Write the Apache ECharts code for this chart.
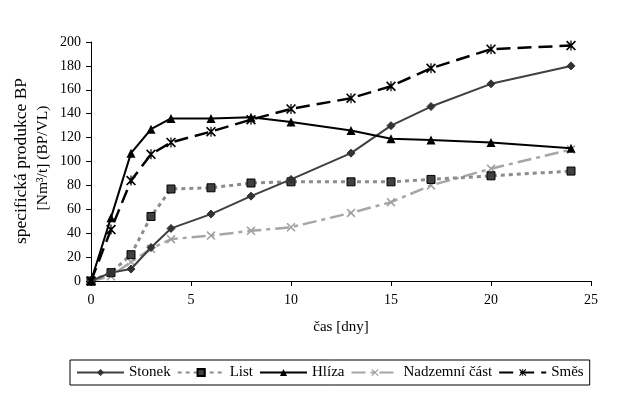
<!DOCTYPE html>
<html>
<head>
<meta charset="utf-8">
<script src="https://cdn.jsdelivr.net/npm/echarts@6/dist/echarts.min.js"></script>
<style>html,body{margin:0;padding:0;background:#fff;}#c{width:635px;height:405px;}</style>
</head>
<body>
<div id="c"></div>
<script>
const days = [0, 1, 2, 3, 4, 6, 8, 10, 13, 15, 17, 20, 24];
const stonek = [0, 7, 10, 28, 44, 56, 71, 85, 107, 130, 146, 165, 180];
const list = [0, 7, 22, 54, 77, 78, 82, 83, 83, 83, 85, 88, 92];
const hliza = [0, 53, 107, 127, 136, 136, 137, 133, 126, 119, 118, 116, 111];
const nadzemni = [0, 4, 16, 27, 35, 38, 42, 45, 57, 66, 80, 94, 110];
const smes = [0, 43, 84, 106, 116, 125, 135, 144, 153, 163, 178, 194, 197];
const seriesNames = ['Stonek', 'List', 'Hlíza', 'Nadzemní část', 'Směs'];
const xTicks = [0, 5, 10, 15, 20, 25];
const yTicks = [0, 20, 40, 60, 80, 100, 120, 140, 160, 180, 200];
const yTitle1 = 'specifická produkce BP';
const yTitle2 = '[Nm³/t] (BP/VL)';
const xTitle = 'čas [dny]';

const FONT = '"Liberation Serif", "Times New Roman", serif';
const xPath = 'path://M0,1.2 L1.2,0 L10,8.8 L8.8,10 Z M8.8,0 L10,1.2 L1.2,10 L0,8.8 Z';
const starPath = 'path://M0,1.2 L1.2,0 L10,8.8 L8.8,10 Z M8.8,0 L10,1.2 L1.2,10 L0,8.8 Z M4.4,0 L5.6,0 L5.6,10 L4.4,10 Z';

function pairs(vals) { return days.map((d, i) => [d, vals[i]]); }

const chart = echarts.init(document.getElementById('c'), null, {renderer: 'canvas'});
chart.setOption({
  animation: false,
  backgroundColor: '#fff',
  grid: {left: 91, right: 44, top: 42, bottom: 124, containLabel: false},
  graphic: [
    {type: 'text', x: 21, y: 161, rotation: Math.PI / 2,
      style: {text: yTitle1, fill: '#000', fontSize: 17.5, fontFamily: FONT, align: 'center', verticalAlign: 'middle'}},
    {type: 'text', x: 43, y: 158, rotation: Math.PI / 2,
      style: {text: yTitle2, fill: '#000', fontSize: 15.5, fontFamily: FONT, align: 'center', verticalAlign: 'middle'}}
  ],
  xAxis: {
    type: 'value', min: 0, max: 25, interval: 5,
    axisLine: {lineStyle: {color: '#000', width: 1}},
    axisTick: {show: true, inside: false, length: 5, lineStyle: {color: '#000'}},
    axisLabel: {color: '#000', fontFamily: FONT, fontSize: 14, margin: 12,
      formatter: v => xTicks.includes(v) ? String(v) : ''},
    splitLine: {show: false},
    name: xTitle, nameLocation: 'middle', nameGap: 39,
    nameTextStyle: {color: '#000', fontFamily: FONT, fontSize: 15}
  },
  yAxis: {
    type: 'value', min: 0, max: 200, interval: 20,
    axisLine: {show: true, lineStyle: {color: '#000', width: 1}},
    axisTick: {show: true, inside: false, length: 5, lineStyle: {color: '#000'}},
    axisLabel: {color: '#000', fontFamily: FONT, fontSize: 14, margin: 10,
      formatter: v => yTicks.includes(v) ? String(v) : ''},
    splitLine: {show: false}
  },
  legend: {
    show: true, left: 70, top: 360,
    padding: [5, 6], itemGap: 6, itemWidth: 47, itemHeight: 9,
    borderColor: '#000', borderWidth: 1,
    textStyle: {color: '#000', fontFamily: FONT, fontSize: 15},
    data: seriesNames
  },
  series: [
    {name: seriesNames[0], type: 'line', data: pairs(stonek),
      symbol: 'diamond', symbolSize: 8,
      lineStyle: {color: '#404040', width: 2, type: 'solid'},
      itemStyle: {color: '#333333', borderColor: '#333333'}, z: 3},
    {name: seriesNames[1], type: 'line', data: pairs(list),
      symbol: 'rect', symbolSize: 8,
      lineStyle: {color: '#8c8c8c', width: 3, type: [4, 4]},
      itemStyle: {color: '#404040', borderColor: '#000', borderWidth: 1}, z: 2},
    {name: seriesNames[2], type: 'line', data: pairs(hliza),
      symbol: 'triangle', symbolSize: 9,
      lineStyle: {color: '#000', width: 2, type: 'solid'},
      itemStyle: {color: '#000'}, z: 4},
    {name: seriesNames[3], type: 'line', data: pairs(nadzemni),
      symbol: xPath, symbolSize: 9,
      lineStyle: {color: '#a6a6a6', width: 2.5, type: [14, 5, 4, 5]},
      itemStyle: {color: '#a0a0a0'}, z: 1},
    {name: seriesNames[4], type: 'line', data: pairs(smes),
      symbol: starPath, symbolSize: 10,
      lineStyle: {color: '#000', width: 2.5, type: [14, 7]},
      itemStyle: {color: '#000'}, z: 5}
  ]
});
</script>
</body>
</html>
